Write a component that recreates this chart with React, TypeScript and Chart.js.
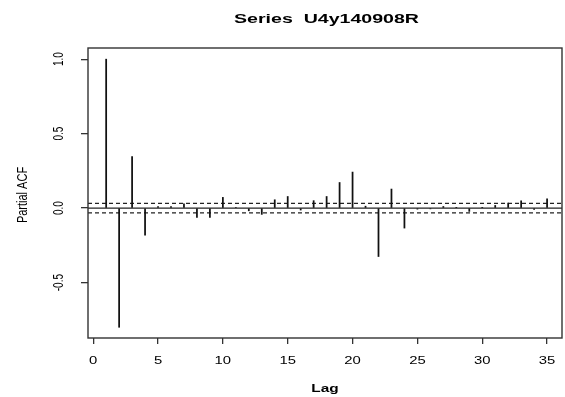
import React, { useEffect, useRef } from "react";
import { Chart, registerables } from "chart.js";

Chart.register(...registerables);

// ---- data ----
const titleText = "Series  U4y140908R";
const xTitle = "Lag";
const yTitle = "Partial ACF";
const lags = [
  1, 2, 3, 4, 5, 6, 7, 8, 9, 10, 11, 12, 13, 14, 15, 16, 17, 18, 19, 20, 21, 22, 23, 24, 25, 26, 27, 28, 29, 30, 31, 32, 33, 34, 35,
];
const pacf = [
  1.0, -0.8, 0.346, -0.182, 0.01, 0.01, 0.029, -0.063, -0.063, 0.072, 0.004, -0.018, -0.042, 0.056, 0.078, -0.013, 0.05, 0.078,
  0.172, 0.242, 0.013, -0.325, 0.128, -0.134, -0.007, -0.005, 0.011, 0.003, -0.022, 0.003, 0.018, 0.034, 0.049, -0.009, 0.063,
];
const ciBound = 0.032;
const xTicks = [0, 5, 10, 15, 20, 25, 30, 35];
const xTickLabels = ["0", "5", "10", "15", "20", "25", "30", "35"];
const yTicks = [-0.5, 0, 0.5, 1.0];
const yTickLabels = ["-0.5", "0.0", "0.5", "1.0"];
const xMin = -0.4;
const xMax = 36.15;
const yMin = -0.872;
const yMax = 1.075;

const FONT = '"Liberation Sans", Arial, Helvetica, sans-serif';

function drawStretched(
  ctx: CanvasRenderingContext2D,
  text: string,
  x: number,
  y: number,
  font: string,
  sx: number,
  rotated: boolean
) {
  ctx.save();
  ctx.translate(x, y);
  ctx.scale(sx, 1);
  if (rotated) ctx.rotate(-Math.PI / 2);
  ctx.font = font;
  ctx.fillStyle = "#000";
  ctx.textAlign = "center";
  ctx.textBaseline = "alphabetic";
  ctx.fillText(text, 0, 0);
  ctx.restore();
}

const rPlotPlugin = {
  id: "rPlot",
  afterDraw(chart: any) {
    const { ctx, chartArea, scales } = chart;
    const { left, right, top, bottom } = chartArea;
    // box
    ctx.save();
    ctx.strokeStyle = "#333";
    ctx.lineWidth = 1.4;
    ctx.strokeRect(left, top, right - left, bottom - top);
    ctx.restore();

    const cx = (left + right) / 2;
    const cy = (top + bottom) / 2;
    // title
    drawStretched(ctx, titleText, cx + 1.5, 23.3, `bold 13.5px ${FONT}`, 1.45, false);
    // x tick labels
    xTicks.forEach((v, i) => {
      drawStretched(ctx, xTickLabels[i], scales.x.getPixelForValue(v), bottom + 26, `11px ${FONT}`, 1.35, false);
    });
    // x title
    drawStretched(ctx, xTitle, cx, bottom + 54.3, `bold 11px ${FONT}`, 1.4, false);
    // y tick labels
    yTicks.forEach((v, i) => {
      drawStretched(ctx, yTickLabels[i], left - 24.7, scales.y.getPixelForValue(v), `10px ${FONT}`, 1.4, true);
    });
    // y title
    drawStretched(ctx, yTitle, 26.7, cy + 2, `11px ${FONT}`, 1.3, true);
  },
};

export default function App() {
  const canvasRef = useRef<HTMLCanvasElement | null>(null);

  useEffect(() => {
    if (!canvasRef.current) return;
    const chart = new Chart(canvasRef.current, {
      type: "bar",
      data: {
        datasets: [
          {
            type: "bar",
            data: lags.map((l, i) => ({ x: l, y: pacf[i] })),
            backgroundColor: "#111",
            borderWidth: 0,
            barThickness: 1.1,
          } as any,
          {
            type: "line",
            data: [
              { x: xMin, y: 0 },
              { x: xMax, y: 0 },
            ],
            borderColor: "#222",
            borderWidth: 1.4,
            pointRadius: 0,
            fill: false,
          },
          {
            type: "line",
            data: [
              { x: xMin, y: ciBound },
              { x: xMax, y: ciBound },
            ],
            borderColor: "#222",
            borderWidth: 1.3,
            borderDash: [4, 3],
            pointRadius: 0,
            fill: false,
          },
          {
            type: "line",
            data: [
              { x: xMin, y: -ciBound },
              { x: xMax, y: -ciBound },
            ],
            borderColor: "#222",
            borderWidth: 1.3,
            borderDash: [4, 3],
            pointRadius: 0,
            fill: false,
          },
        ],
      },
      options: {
        animation: false,
        responsive: true,
        maintainAspectRatio: false,
        events: [],
        layout: { padding: { top: 48, right: 3, left: 0, bottom: 0 } },
        plugins: {
          legend: { display: false },
          title: { display: false },
          tooltip: { enabled: false },
        },
        scales: {
          x: {
            type: "linear",
            min: xMin,
            max: xMax,
            offset: false,
            afterBuildTicks: (scale: any) => {
              scale.ticks = xTicks.map((v) => ({ value: v }));
            },
            afterFit: (scale: any) => {
              scale.height = 59;
            },
            ticks: { display: false },
            border: { display: false },
            grid: {
              display: true,
              offset: false,
              drawOnChartArea: false,
              drawTicks: true,
              tickLength: 6,
              color: "#333",
              lineWidth: 1.3,
            },
          },
          y: {
            type: "linear",
            min: yMin,
            max: yMax,
            afterBuildTicks: (scale: any) => {
              scale.ticks = yTicks.map((v) => ({ value: v }));
            },
            afterFit: (scale: any) => {
              scale.width = 88;
            },
            ticks: { display: false },
            border: { display: false },
            grid: {
              display: true,
              drawOnChartArea: false,
              drawTicks: true,
              tickLength: 7,
              color: "#333",
              lineWidth: 1.3,
            },
          },
        },
      } as any,
      plugins: [rPlotPlugin],
    });
    return () => chart.destroy();
  }, []);

  return (
    <div style={{ position: "absolute", left: 0, top: 0, width: 565, height: 397, background: "#fff" }}>
      <canvas ref={canvasRef} />
    </div>
  );
}
